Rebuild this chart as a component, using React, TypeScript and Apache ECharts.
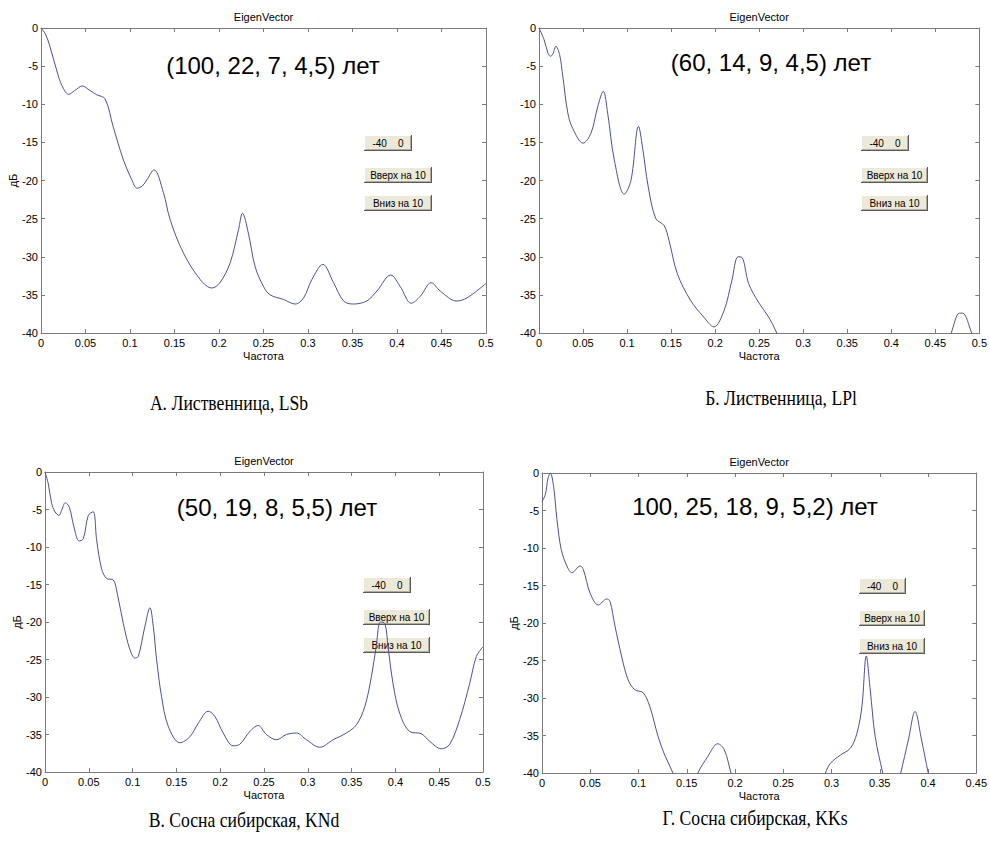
import React, { useEffect, useRef } from "react";
import * as echarts from "echarts";

// ---------- Data ----------
const chartTitle = "EigenVector";
const xAxisName = "Частота";
const yAxisName = "дБ";

const annotations = [
  "(100, 22, 7, 4,5) лет",
  "(60, 14, 9, 4,5) лет",
  "(50, 19, 8, 5,5) лет",
  "100, 25, 18, 9, 5,2) лет",
];

const captions = [
  "А. Лиственница, LSb",
  "Б. Лиственница, LPl",
  "В. Сосна сибирская, KNd",
  "Г. Сосна сибирская, KKs",
];

const buttonLabels = ["-40    0", "Вверх на 10", "Вниз на 10"];

const xMaxes = [0.5, 0.5, 0.5, 0.45];
const yMin = -40;
const yMax = 0;

// Panel A
const freqA = [0, 0.005, 0.01, 0.0195, 0.025, 0.031, 0.038, 0.0465, 0.055, 0.0626, 0.072, 0.081, 0.0926, 0.102, 0.108, 0.114, 0.119, 0.127, 0.1376, 0.145, 0.16, 0.179, 0.192, 0.201, 0.2125, 0.222, 0.2264, 0.233, 0.2406, 0.25, 0.2575, 0.2725, 0.2856, 0.295, 0.3043, 0.3167, 0.3287, 0.34, 0.351, 0.366, 0.3774, 0.393, 0.4036, 0.416, 0.4261, 0.4385, 0.4486, 0.467, 0.4786, 0.5];
const dbA = [0, -0.8, -2.4, -6.3, -7.9, -8.7, -8.2, -7.6, -8.2, -8.75, -9.3, -12.9, -17.3, -19.9, -21.0, -20.7, -19.9, -18.6, -21.6, -25.1, -29.5, -33.0, -34.1, -33.4, -30.8, -26.4, -24.3, -26.9, -31.3, -33.9, -35.0, -35.6, -36.2, -35.4, -33.0, -31.0, -33.4, -35.8, -36.2, -35.8, -34.5, -32.4, -33.9, -36.1, -35.2, -33.4, -34.5, -35.8, -35.4, -33.5];

// Panel B (null = curve below the visible range)
const freqB = [0, 0.0057, 0.0102, 0.013, 0.0158, 0.0192, 0.0234, 0.0271, 0.0328, 0.0384, 0.05, 0.059, 0.0667, 0.073, 0.078, 0.0855, 0.0968, 0.1044, 0.113, 0.1175, 0.124, 0.1326, 0.142, 0.1477, 0.157, 0.172, 0.187, 0.1986, 0.21, 0.219, 0.226, 0.2306, 0.238, 0.2494, 0.2607, 0.27, 0.276, 0.37, 0.462, 0.468, 0.4774, 0.481, 0.4913, 0.497];
const dbB = [0, -1.5, -3.3, -3.7, -3.4, -2.4, -3.5, -6.4, -11.2, -13.2, -15.1, -13.8, -10.3, -8.3, -11.2, -17.3, -21.8, -20.0, -12.9, -15.6, -20.8, -25.0, -25.9, -27.9, -32.2, -35.7, -37.9, -39.2, -37.1, -33.1, -30.0, -30.1, -33.5, -36.0, -37.9, -40.0, -41.8, null, -41.8, -40.0, -37.4, -37.4, -40.0, -41.8];

// Panel C
const freqC = [0, 0.0038, 0.0076, 0.0114, 0.016, 0.019, 0.0232, 0.0278, 0.033, 0.039, 0.0437, 0.0494, 0.055, 0.059, 0.0646, 0.0703, 0.078, 0.0825, 0.0894, 0.097, 0.1027, 0.1065, 0.114, 0.1198, 0.1236, 0.1274, 0.133, 0.1407, 0.154, 0.1654, 0.175, 0.1863, 0.194, 0.2034, 0.2148, 0.2224, 0.2338, 0.2433, 0.2528, 0.2643, 0.2757, 0.287, 0.2985, 0.3137, 0.3289, 0.344, 0.3555, 0.365, 0.3726, 0.378, 0.383, 0.388, 0.3916, 0.3973, 0.405, 0.4163, 0.4297, 0.439, 0.4525, 0.462, 0.4734, 0.4848, 0.4924, 0.5];
const dbC = [0, -1.6, -4.2, -5.3, -5.8, -5.1, -4.1, -4.7, -7.3, -9.2, -8.9, -5.8, -5.3, -9.1, -12.9, -14.2, -14.4, -16.2, -20.2, -23.7, -24.8, -24.6, -20.6, -18.1, -20.6, -25.0, -29.9, -33.9, -36.1, -35.3, -33.5, -31.9, -32.6, -34.8, -36.5, -36.3, -34.6, -33.8, -35.0, -35.7, -35.0, -34.8, -35.7, -36.7, -35.7, -34.8, -33.7, -31.3, -27.3, -23.3, -20.0, -20.2, -23.3, -28.2, -32.2, -34.6, -34.9, -35.9, -36.9, -36.3, -33.0, -28.2, -24.6, -23.3];

// Panel D
const freqD = [0, 0.0034, 0.0062, 0.0086, 0.012, 0.0155, 0.0199, 0.0258, 0.0309, 0.0395, 0.0429, 0.0498, 0.0584, 0.067, 0.0704, 0.0756, 0.0824, 0.0893, 0.0962, 0.1048, 0.1116, 0.1202, 0.1271, 0.1357, 0.14, 0.15, 0.157, 0.1615, 0.1718, 0.1821, 0.1889, 0.1958, 0.2, 0.25, 0.289, 0.2937, 0.2989, 0.3092, 0.3195, 0.3263, 0.3315, 0.336, 0.3401, 0.3452, 0.3531, 0.357, 0.365, 0.368, 0.3717, 0.3796, 0.3865, 0.3933, 0.4002, 0.404];
const dbD = [-3.8, -2.9, -0.7, 0, -1.8, -6.2, -10.2, -12.4, -13.3, -12.4, -12.9, -16.0, -17.6, -16.8, -17.1, -20.4, -24.4, -27.6, -28.9, -29.3, -31.1, -35.1, -37.6, -40.0, -41.8, null, -41.8, -40.0, -37.8, -36.1, -36.9, -40.0, -41.8, null, -41.8, -40.0, -38.7, -37.6, -36.7, -34.7, -31.1, -24.4, -28.9, -35.1, -40.0, -41.8, null, -41.8, -40.0, -35.6, -31.8, -35.6, -40.0, -41.8];

const freqs = [freqA, freqB, freqC, freqD];
const dbs = [dbA, dbB, dbC, dbD];

// ---------- Layout ----------
const FONT = "'Liberation Sans', Arial, sans-serif";
const SERIF = "'Liberation Serif', 'Times New Roman', serif";
const FRAME = "#7a7a7a";
const LINE = "#4c5099";

const layout = [
  { grid: { left: 41, top: 28, width: 445, height: 305 }, yName: true, yNameGap: 22, ann: [273, 65], btnX: 364, btnY: [135, 167, 195], btnW: [48, 68, 68], cap: [229, 403] },
  { grid: { left: 539, top: 28, width: 443, height: 305 }, yName: false, yNameGap: 22, ann: [771, 62], btnX: 861, btnY: [135, 167, 195], btnW: [48, 67, 67], cap: [781, 398] },
  { grid: { left: 45, top: 472, width: 438, height: 300 }, yName: true, yNameGap: 20, ann: [277, 507], btnX: 363, btnY: [577, 609, 637], btnW: [48, 67, 67], cap: [244, 820] },
  { grid: { left: 542, top: 473, width: 436, height: 300 }, yName: true, yNameGap: 21, ann: [755, 506], btnX: 859, btnY: [578, 610, 638], btnW: [47, 66, 66], cap: [755, 818] },
];

function button(x: number, y: number, w: number, h: number, text: string) {
  return {
    type: "group",
    x,
    y,
    z: 100,
    children: [
      { type: "rect", shape: { x: 0, y: 0, width: w, height: h }, style: { fill: "#ece9d8" } },
      { type: "line", shape: { x1: 0, y1: 0.5, x2: w - 1, y2: 0.5 }, style: { stroke: "#ffffff", lineWidth: 1 } },
      { type: "line", shape: { x1: 0.5, y1: 0, x2: 0.5, y2: h - 1 }, style: { stroke: "#ffffff", lineWidth: 1 } },
      { type: "line", shape: { x1: 0, y1: h - 0.5, x2: w, y2: h - 0.5 }, style: { stroke: "#5a5a5a", lineWidth: 1 } },
      { type: "line", shape: { x1: w - 0.5, y1: 0, x2: w - 0.5, y2: h }, style: { stroke: "#5a5a5a", lineWidth: 1 } },
      { type: "line", shape: { x1: 1, y1: h - 1.5, x2: w - 1, y2: h - 1.5 }, style: { stroke: "#b0ada0", lineWidth: 1 } },
      { type: "line", shape: { x1: w - 1.5, y1: 1, x2: w - 1.5, y2: h - 1 }, style: { stroke: "#b0ada0", lineWidth: 1 } },
      {
        type: "text",
        x: w / 2,
        y: h / 2,
        style: { text, fontSize: 10, fill: "#000", align: "center", verticalAlign: "middle", fontFamily: FONT },
      },
    ],
  };
}

function buildOption() {
  const grids: any[] = [];
  const xAxes: any[] = [];
  const yAxes: any[] = [];
  const series: any[] = [];
  const graphics: any[] = [];

  layout.forEach((p, i) => {
    grids.push({ ...p.grid, containLabel: false });
    const axisBase = {
      type: "value",
      gridIndex: i,
      axisLine: { show: true, onZero: false, lineStyle: { color: FRAME, width: 1 } },
      axisTick: { show: true, inside: true, length: 4, lineStyle: { color: FRAME } },
      splitLine: { show: false },
    };
    xAxes.push({
      ...axisBase,
      position: "bottom",
      min: 0,
      max: xMaxes[i],
      interval: 0.05,
      axisLabel: { show: true, fontSize: 11, color: "#000", fontFamily: FONT, margin: 4, showMaxLabel: true },
      name: xAxisName,
      nameLocation: "middle",
      nameGap: 17,
      nameTextStyle: { fontSize: 11, color: "#000", fontFamily: FONT },
    });
    xAxes.push({
      ...axisBase,
      position: "top",
      min: 0,
      max: xMaxes[i],
      interval: 0.05,
      axisLabel: { show: false },
      name: chartTitle,
      nameLocation: "middle",
      nameGap: 6,
      nameTextStyle: { fontSize: 11, color: "#000", fontFamily: FONT },
    });
    yAxes.push({
      ...axisBase,
      position: "left",
      min: yMin,
      max: yMax,
      interval: 5,
      axisLabel: { show: true, fontSize: 11, color: "#000", fontFamily: FONT, margin: 3 },
      name: p.yName ? yAxisName : "",
      nameLocation: "middle",
      nameGap: p.yNameGap,
      nameRotate: 90,
      nameTextStyle: { fontSize: 11, color: "#000", fontFamily: FONT },
    });
    yAxes.push({
      ...axisBase,
      position: "right",
      min: yMin,
      max: yMax,
      interval: 5,
      axisLabel: { show: false },
    });

    const data = freqs[i].map((f, k) => [f, dbs[i][k] === null ? "-" : dbs[i][k]]);
    series.push({
      type: "line",
      xAxisIndex: 2 * i,
      yAxisIndex: 2 * i,
      data,
      showSymbol: false,
      smooth: 0.35,
      clip: true,
      connectNulls: false,
      lineStyle: { color: LINE, width: 1 },
      emphasis: { disabled: true },
    });

    graphics.push({
      type: "text",
      x: p.ann[0],
      y: p.ann[1],
      z: 50,
      style: {
        text: annotations[i],
        fontSize: 24,
        fill: "#000",
        align: "center",
        verticalAlign: "middle",
        fontFamily: FONT,
      },
    });

    buttonLabels.forEach((t, b) => {
      graphics.push(button(p.btnX, p.btnY[b], p.btnW[b], 16, t));
    });

    graphics.push({
      type: "text",
      x: p.cap[0],
      y: p.cap[1],
      scaleX: 0.84,
      z: 50,
      style: {
        text: captions[i],
        fontSize: 21,
        fill: "#000",
        align: "center",
        verticalAlign: "middle",
        fontFamily: SERIF,
      },
    });
  });

  return {
    animation: false,
    backgroundColor: "#ffffff",
    grid: grids,
    xAxis: xAxes,
    yAxis: yAxes,
    series,
    graphic: graphics,
  };
}

export default function App() {
  const ref = useRef<HTMLDivElement>(null);
  useEffect(() => {
    if (!ref.current) return;
    const chart = echarts.init(ref.current, undefined, { renderer: "svg" });
    chart.setOption(buildOption() as any);
    return () => {
      chart.dispose();
    };
  }, []);
  return (
    <div
      ref={ref}
      style={{ position: "fixed", left: 0, top: 0, width: 990, height: 844, background: "#fff" }}
    />
  );
}
